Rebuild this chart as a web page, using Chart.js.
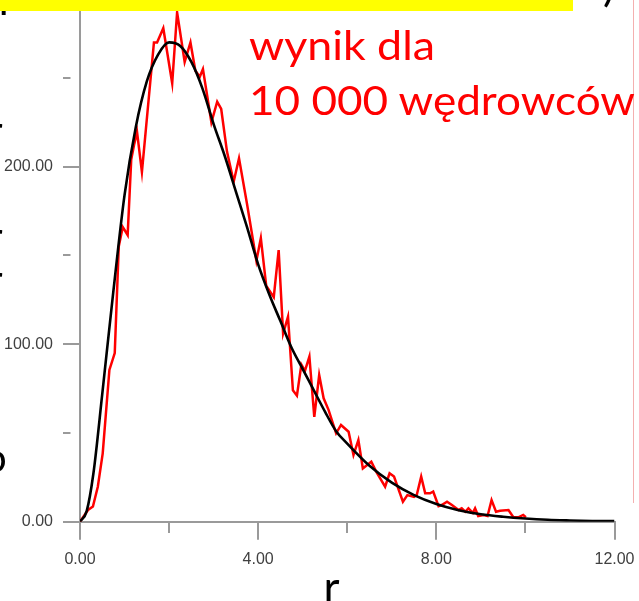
<!DOCTYPE html>
<html><head><meta charset="utf-8">
<script src="https://cdn.jsdelivr.net/npm/chart.js@4.4.1/dist/chart.umd.min.js"></script>
<style>
html,body{margin:0;padding:0;background:#fff}
body{width:639px;height:601px;overflow:hidden;position:relative}
#chart{position:absolute;left:0;top:0}
.t{position:absolute;white-space:nowrap;font-family:Lato,"Open Sans",sans-serif;line-height:1;transform-origin:0 0;left:0;top:0}
</style></head><body>
<canvas id="chart" width="639" height="601"></canvas>
<div class="t" id="fTL" style="font-size:44px;color:#000">l</div>
<div id="yellow" style="position:absolute;left:0;top:0;width:573px;height:11px;background:#ffff00"></div>
<div class="t" id="fTR" style="font-size:44px;color:#000">)</div>
<div class="t" id="fL1" style="font-size:40px;color:#000">r</div>
<div class="t" id="fL2" style="font-size:40px;color:#000">r</div>
<div class="t" id="fL3" style="font-size:40px;color:#000">r</div>
<div class="t" id="fL4" style="font-size:40px;color:#000">o</div>
<div id="pink" style="position:absolute;left:633px;top:0;width:1px;height:503px;background:#f4b0b0"></div>
<div class="t" id="l1" style="font-size:40px;color:#ff0000">wynik dla</div>
<div class="t" id="l2" style="font-size:40px;color:#ff0000">10 000 wędrowców</div>
<div class="t" id="rlab" style="font-size:44px;color:#000">r</div>
<script>
// ---- data ----
const rRed = [0,0.18,0.29,0.40,0.51,0.66,0.78,0.87,0.96,1.07,1.15,1.22,1.28,1.39,1.66,1.73,1.87,2.07,2.18,2.35,2.48,2.59,2.69,2.76,2.95,3.08,3.17,3.30,3.45,3.57,3.75,3.96,4.06,4.18,4.35,4.46,4.56,4.67,4.78,4.87,4.97,5.05,5.15,5.26,5.37,5.47,5.58,5.75,5.86,6.03,6.14,6.25,6.35,6.54,6.65,6.85,6.95,7.05,7.25,7.35,7.50,7.56,7.66,7.75,7.86,7.93,8.05,8.12,8.24,8.35,8.50,8.57,8.65,8.72,8.82,8.87,8.94,9.06,9.15,9.24,9.34,9.43,9.62,9.73,9.84,9.95,10.01];
const nRed = [0,6.6,8.5,19.7,38.5,85.5,95,155,166,161.5,204,213,219.7,197,270,270,278,247,287,259,270,254,250.7,255,225,236.6,232.5,208.5,191.5,204.7,179,147,159.7,133,126.5,153,106,115.5,74,71,88.5,85,93,59,82.6,69.5,63,49.8,54.5,50.7,37.6,46,30,33.8,28.2,19.7,27.3,25.4,11.3,15,14,15,25.4,16,16,17,8.8,9.4,11.3,9.4,6.6,7.5,5.6,7.5,5,7.5,3.2,3.8,3.2,12.2,5.6,6.2,6.6,2.5,2.5,3.8,2.5];
const rFit = [0,0.15,0.3,0.5,0.75,1.0,1.25,1.5,1.75,2.0,2.25,2.5,2.75,3.0,3.25,3.5,3.75,4.0,4.25,4.5,4.75,5.0,5.25,5.5,5.75,6.0,6.5,7.0,7.5,8.0,8.5,9.0,9.5,10,10.5,11,11.5,12];
const nFit = [0,6,27,72,130,184,222,248,263,270,268,259,244,224,206,186,166,145,128,113,98,86,74,62,51,44,31.5,22,15,10,6.5,4.2,2.8,1.8,1.1,0.7,0.4,0.3];
const xMajor = [0,4,8,12];
const xMinor = [2,6,10];
const yMajor = [0,100,200];
const yMinor = [50,150,250];
const yTop = 293.9;

const tickFont = {family:'"Liberation Sans", Arial, sans-serif', size:16};
const axisGrey = '#9a9a9a';

new Chart(document.getElementById('chart'), {
  type: 'line',
  data: {datasets: [
    {label:'teoria', data: rFit.map((r,i)=>({x:r,y:nFit[i]})), borderColor:'#000000', borderWidth:2.6,
     pointRadius:0, cubicInterpolationMode:'monotone', fill:false},
    {label:'symulacja', data: rRed.map((r,i)=>({x:r,y:nRed[i]})), borderColor:'#ff0000', borderWidth:2.5,
     pointRadius:0, tension:0, fill:false}
  ]},
  options: {
    responsive:false, animation:false, devicePixelRatio:1,
    layout:{padding:{left:0,top:0,right:24.5,bottom:0}},
    plugins:{legend:{display:false}, tooltip:{enabled:false}, title:{display:false}},
    scales: {
      x: {type:'linear', min:0, max:12,
        afterBuildTicks: s => { s.ticks = [...xMajor, ...xMinor].sort((a,b)=>a-b).map(v=>({value:v})); },
        afterFit: s => { s.height = 79.3; s.paddingLeft = 0; s.paddingRight = 0; },
        border:{color:axisGrey, width:2},
        grid:{drawOnChartArea:false, tickLength:18, color:axisGrey, lineWidth:2,
              tickBorderDash: c => (c.tick && xMajor.includes(c.tick.value)) ? [] : [10,200]},
        ticks:{autoSkip:false, maxRotation:0, padding:10, color:'#404040', font:tickFont,
               callback: v => xMajor.includes(v) ? v.toFixed(2) : ''}
      },
      y: {type:'linear', min:0, max:yTop,
        afterBuildTicks: s => { s.ticks = [...yMajor, ...yMinor].sort((a,b)=>a-b).map(v=>({value:v})); },
        afterFit: s => { s.width = 80; s.paddingTop = 0; s.paddingBottom = 0; },
        border:{color:axisGrey, width:2},
        grid:{drawOnChartArea:false, tickLength:17, color:axisGrey, lineWidth:2,
              tickBorderDash: c => (c.tick && yMajor.includes(c.tick.value)) ? [] : [7.5,200]},
        ticks:{autoSkip:false, padding:10, color:'#404040', font:tickFont,
               callback: v => yMajor.includes(v) ? v.toFixed(2) : ''}
      }
    }
  }
});

// ---- place slide texts by baseline ----
function place(id, x, baseline, targetWidth) {
  const el = document.getElementById(id);
  const probe = document.createElement('span');
  probe.style.cssText = 'display:inline-block;width:0;height:0;vertical-align:baseline';
  el.appendChild(probe);
  const b = probe.offsetTop;
  el.style.left = x + 'px';
  el.style.top = (baseline - b) + 'px';
  if (targetWidth) {
    const w = el.getBoundingClientRect().width;
    el.style.transform = 'scaleX(' + (targetWidth / w) + ')';
  }
}
place('l1', 249, 59.5, 186);
place('l2', 249, 115, 386);
place('rlab', 323.5, 603);
place('fTL', -1.5, 15);
place('fTR', 603, 1);
place('fL1', -12, 145);
place('fL2', -12, 251);
place('fL3', -12, 294);
place('fL4', -16, 472);
</script>
</body></html>
